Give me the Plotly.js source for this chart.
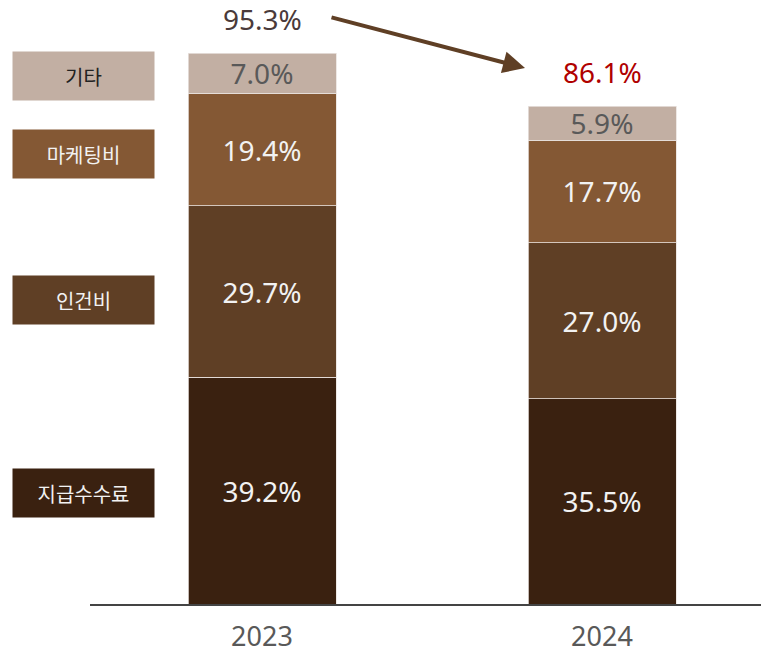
<!DOCTYPE html>
<html>
<head>
<meta charset="utf-8">
<script src="https://cdn.plot.ly/plotly-3.0.1.min.js"></script>
<style>html,body{margin:0;padding:0;background:#fff;}#chart{width:761px;height:654px;}</style>
</head>
<body>
<div id="chart"></div>
<script>
// ---- data ----
const years = ['2023', '2024'];
const seriesNames = ['지급수수료', '인건비', '마케팅비', '기타'];
const feeValues = [39.2, 35.5];        // 지급수수료
const laborValues = [29.7, 27.0];      // 인건비
const marketingValues = [19.4, 17.7];  // 마케팅비
const otherValues = [7.0, 5.9];        // 기타
const seriesValues = [feeValues, laborValues, marketingValues, otherValues];

// ---- styles ----
const colors = ['#3a2110', '#5f3f25', '#845834', '#c2afa3'];
const labelColors = ['#f2f2f2', '#f2f2f2', '#f2f2f2', '#595959'];
const legendTextColors = ['#f2f2f2', '#f2f2f2', '#f2f2f2', '#222222'];
const FONT = '"Noto Sans", "Noto Sans CJK KR", sans-serif';

const W = 761, H = 654;
const margin = {l: 90, r: 0, t: 10, b: 50};
const plotH = H - margin.t - margin.b;
const pxPerUnit = 551 / 95.3;
const yMax = plotH / pxPerUnit;
const xs = years.map((_, i) => i);

const traces = seriesNames.map((name, k) => ({
  type: 'bar',
  name: name,
  x: xs,
  y: seriesValues[k],
  width: 148 / 340,
  marker: {color: colors[k], line: {color: '#e8e2de', width: 0.8}},
  text: seriesValues[k].map(v => v.toFixed(1) + '%'),
  textposition: 'inside',
  insidetextanchor: 'middle',
  textangle: 0,
  textfont: {family: FONT, size: 28, color: labelColors[k]},
  constraintext: 'none',
  hoverinfo: 'skip'
}));

const totals = years.map((_, i) => seriesValues.reduce((s, arr) => s + arr[i], 0));

// pixel -> paper helpers for margin-area elements
const px2paperX = px => (px - margin.l) / (W - margin.l - margin.r);
const py2paperY = py => (H - margin.b - py) / plotH;

const legendCenters = [493, 300, 154, 76.5];
const annotations = [];
seriesNames.forEach((name, k) => {
  annotations.push({
    xref: 'paper', yref: 'paper',
    x: px2paperX(83.5), y: py2paperY(legendCenters[k]),
    xanchor: 'center', yanchor: 'middle',
    text: name, showarrow: false,
    width: 141, height: 48, bgcolor: colors[k], borderpad: 0,
    font: {family: '"Noto Sans CJK KR", sans-serif', size: 20, color: legendTextColors[k]}
  });
});

// totals
annotations.push({
  x: xs[0], y: totals[0], xref: 'x', yref: 'y', yshift: 34,
  text: totals[0].toFixed(1) + '%', showarrow: false,
  font: {family: FONT, size: 28, color: '#4a3a3a'}
});
annotations.push({
  x: xs[1], y: totals[1], xref: 'x', yref: 'y', yshift: 34,
  text: totals[1].toFixed(1) + '%', showarrow: false,
  font: {family: FONT, size: 28, color: '#b00000'}
});
// arrow
annotations.push({
  xref: 'x', yref: 'y', axref: 'x', ayref: 'y',
  x: (525 - 262) / 340, y: (604 - 68) / pxPerUnit,
  ax: (330 - 262) / 340, ay: (604 - 17) / pxPerUnit,
  text: '', showarrow: true, arrowhead: 2, arrowsize: 1.1, arrowwidth: 4,
  arrowcolor: '#5f3f25'
});

const layout = {
  width: W, height: H,
  margin: margin,
  barmode: 'stack',
  bargap: 0,
  showlegend: false,
  paper_bgcolor: '#ffffff',
  plot_bgcolor: '#ffffff',
  xaxis: {
    range: [-172 / 340, 1 + 159 / 340],
    tickvals: xs, ticktext: years,
    showgrid: false, zeroline: false,
    showline: true, linecolor: '#444444', linewidth: 1.5,
    ticks: '',
    ticklabelstandoff: 8,
    tickfont: {family: FONT, size: 27, color: '#595959'}
  },
  yaxis: {
    range: [0, yMax],
    visible: false, showgrid: false, zeroline: false
  },
  annotations: annotations
};

Plotly.newPlot('chart', traces, layout, {displayModeBar: false, staticPlot: true});
</script>
</body>
</html>
